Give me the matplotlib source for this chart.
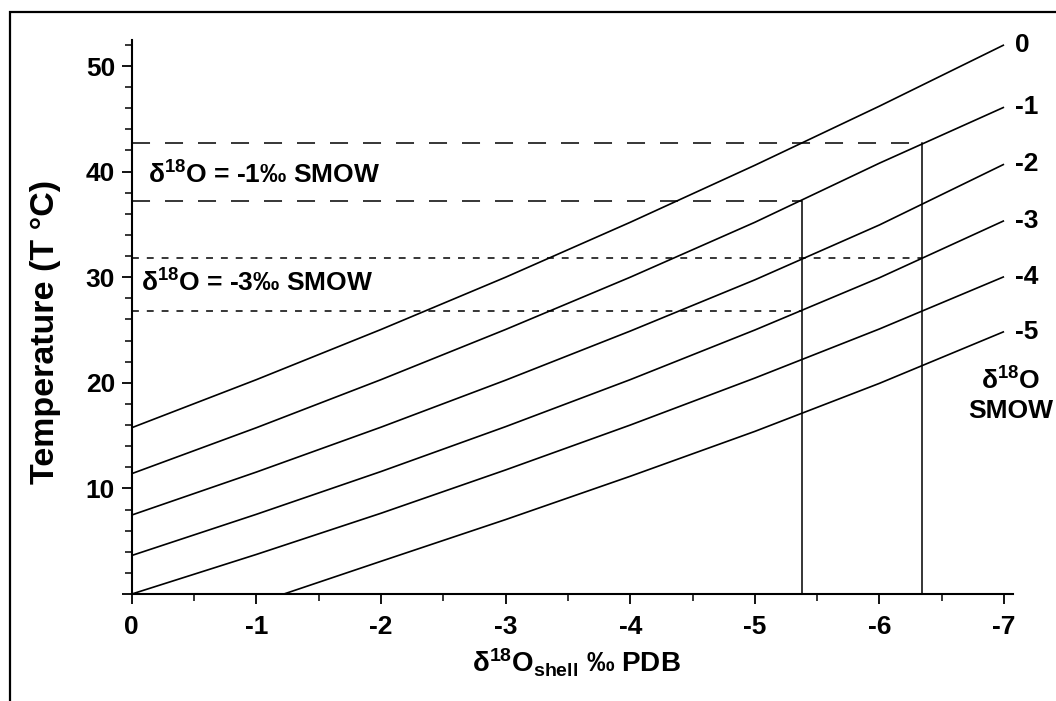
import numpy as np
import matplotlib.pyplot as plt
from matplotlib.patches import Rectangle
from matplotlib.ticker import MultipleLocator

plt.rcParams['font.family'] = ['Liberation Sans', 'DejaVu Sans']
plt.rcParams['font.weight'] = 'bold'
plt.rcParams['axes.labelweight'] = 'bold'
plt.rcParams['mathtext.default'] = 'regular'

# shell d18O (PDB) and temperature for each water d18O (SMOW)
shell_x = [0, -1, -2, -3, -4, -5, -6, -7]
temp_w0 = [15.75, 20.3, 25.05, 30.0, 35.2, 40.6, 46.2, 52.0]
temp_w1 = [11.4, 15.75, 20.3, 25.05, 30.0, 35.2, 40.8, 46.1]
temp_w2 = [7.48, 11.55, 15.8, 20.25, 24.9, 29.75, 34.95, 40.7]
temp_w3 = [3.65, 7.55, 11.6, 15.85, 20.3, 25.0, 29.95, 35.35]
temp_w4 = [0.0, 3.75, 7.65, 11.75, 16.0, 20.45, 25.1, 30.05]
shell_x5 = [-1.22, -2, -3, -4, -5, -6, -7]
temp_w5 = [0.0, 3.1, 7.05, 11.15, 15.4, 19.95, 24.85]
water_labels = ['0', '-1', '-2', '-3', '-4', '-5']

# worked examples: two shell values read against -1 and -3 permil water
shell_ex = [-5.38, -6.34]
temp_ex_w1 = [37.19, 42.74]
temp_ex_w3 = [26.83, 31.79]

fig = plt.figure(figsize=(10.56, 7.01), dpi=100)
ax = fig.add_axes([0.1248, 0.1526, 0.8345, 0.7903])

curves = [(shell_x, temp_w0), (shell_x, temp_w1), (shell_x, temp_w2),
          (shell_x, temp_w3), (shell_x, temp_w4), (shell_x5, temp_w5)]
for (xs, ts), lab in zip(curves, water_labels):
    ax.plot(xs, ts, color='black', lw=1.2, solid_capstyle='butt')
    ax.text(xs[-1] - 0.09, ts[-1], lab, fontsize=19, ha='left', va='center',
            clip_on=False)

# reading lines
for sx, t1, t3 in zip(shell_ex, temp_ex_w1, temp_ex_w3):
    ax.plot([0, sx], [t1, t1], color='black', lw=1.1, linestyle=(0, (11.8, 9.8)))
    ax.plot([0, sx], [t3, t3], color='black', lw=1.1, linestyle=(0, (4.5, 5.2)))
    ax.plot([sx, sx], [0, t1], color='black', lw=1.1)

ax.text(-0.13, 38.85, r'δ$^{18}$O = -1‰ SMOW', fontsize=19, ha='left', va='baseline')
ax.text(-0.07, 28.6, r'δ$^{18}$O = -3‰ SMOW', fontsize=19, ha='left', va='baseline')
ax.text(-7.05, 20.2, r'δ$^{18}$O', fontsize=19, ha='center', va='center', clip_on=False)
ax.text(-7.05, 17.3, 'SMOW', fontsize=19, ha='center', va='center', clip_on=False)

ax.set_xlim(0, -7.072)
ax.set_ylim(0, 52.46)
ax.set_xticks(range(0, -8, -1))
ax.set_xticklabels([str(v) for v in range(0, -8, -1)])
ax.xaxis.set_minor_locator(MultipleLocator(0.5))
ax.set_yticks(range(0, 51, 10))
ax.set_yticklabels([''] + [str(v) for v in range(10, 51, 10)])
ax.yaxis.set_minor_locator(MultipleLocator(2))
ax.tick_params(which='major', length=7, width=1.3, labelsize=19)
ax.tick_params(axis='x', which='major', pad=8)
ax.tick_params(axis='y', which='major', pad=5)
ax.tick_params(which='minor', length=5, width=1.1)

for side in ['top', 'right']:
    ax.spines[side].set_visible(False)
for side in ['left', 'bottom']:
    ax.spines[side].set_linewidth(1.5)

ax.set_xlabel(r'δ$^{18}$O$_{shell}$ ‰ PDB', fontsize=20)
ax.xaxis.set_label_coords(0.505, -0.095)
ax.set_ylabel('Temperature (T °C)', fontsize=24.5)
ax.yaxis.set_label_coords(-0.08, 0.473)

fig.patches.append(Rectangle((10 / 1056, -0.05), 1.1, 1 - 12 / 701 + 0.05,
                             transform=fig.transFigure, fill=False,
                             edgecolor='black', lw=1.6))

fig.savefig('out.png', dpi=100)
